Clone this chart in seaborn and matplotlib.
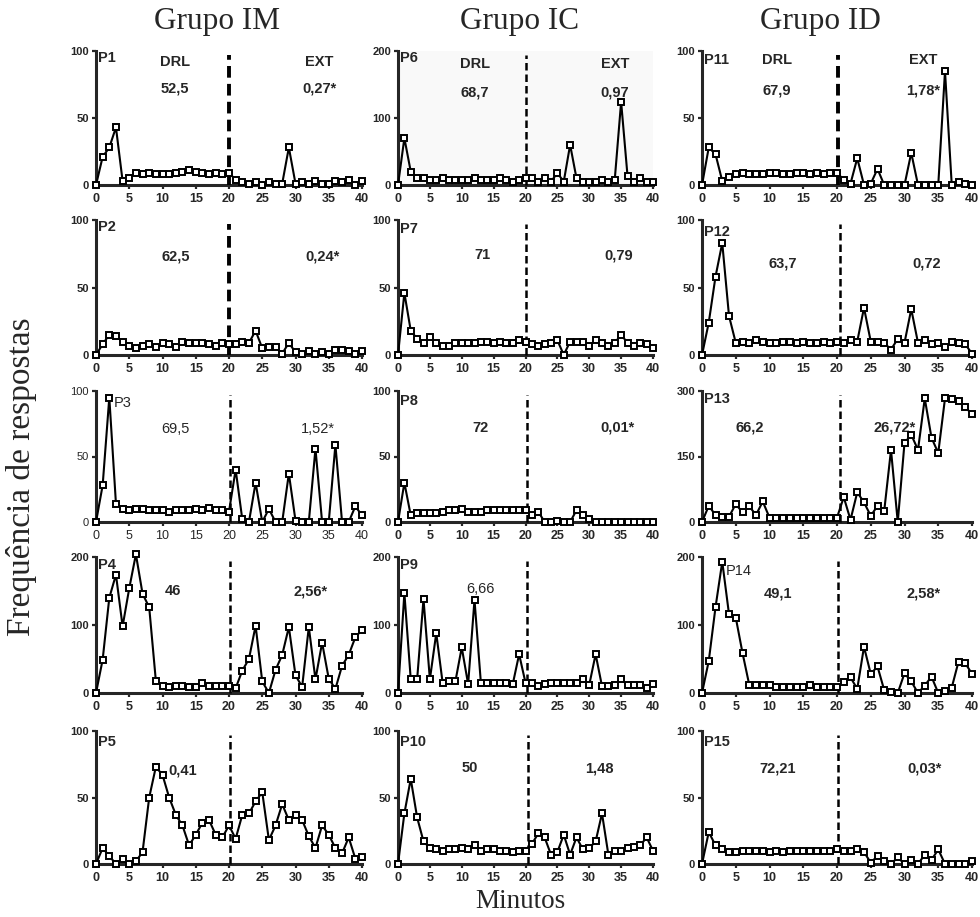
import matplotlib
matplotlib.use("Agg")
import matplotlib.pyplot as plt
import seaborn as sns

# ---------------- data ----------------
minutes = list(range(41))

p1 = [0, 21, 28, 43, 3, 5, 9, 8, 9, 8, 8, 8, 9, 10, 11, 10, 9, 8, 9, 8, 9,
      4, 2, 1, 2, 0, 2, 1, 1, 28, 1, 2, 1, 3, 1, 1, 3, 2, 4, 0, 3]
p2 = [0, 8, 15, 14, 10, 7, 5, 7, 8, 6, 9, 8, 6, 10, 9, 9, 9, 8, 7, 9, 8,
      8, 10, 9, 18, 5, 6, 6, 1, 9, 2, 1, 3, 1, 2, 1, 4, 4, 3, 1, 3]
p3 = [0, 28, 95, 14, 10, 9, 10, 10, 9, 9, 9, 8, 9, 9, 9, 10, 9, 11, 9, 9, 8,
      40, 2, 0, 30, 0, 10, 0, 0, 37, 1, 0, 0, 56, 0, 0, 59, 0, 0, 12, 5]
p4 = [0, 49, 140, 174, 98, 154, 204, 146, 126, 18, 11, 9, 11, 11, 9, 9, 14, 11, 11, 11, 11,
      7, 33, 50, 99, 17, 0, 34, 56, 97, 26, 9, 97, 20, 74, 21, 6, 40, 56, 82, 93]
p5 = [0, 12, 6, 0, 4, 0, 2, 9, 50, 73, 67, 50, 37, 29, 14, 22, 31, 33, 22, 20, 29,
      19, 37, 38, 47, 54, 18, 29, 45, 33, 37, 33, 21, 12, 29, 22, 12, 8, 20, 4, 5]
p6 = [0, 70, 20, 11, 11, 8, 8, 10, 8, 8, 8, 8, 10, 8, 8, 8, 10, 8, 5, 8, 10,
      10, 5, 10, 5, 18, 5, 60, 10, 5, 5, 5, 8, 5, 8, 124, 14, 5, 10, 5, 5]
p7 = [0, 46, 18, 12, 9, 13, 9, 7, 7, 9, 9, 9, 9, 10, 10, 9, 10, 9, 9, 11, 10,
      8, 7, 8, 9, 11, 0, 10, 10, 10, 7, 11, 9, 7, 9, 15, 9, 7, 9, 8, 5]
p8 = [0, 30, 5, 7, 7, 7, 7, 8, 9, 9, 10, 8, 8, 8, 9, 9, 9, 9, 9, 9, 9,
      5, 8, 0, 0, 1, 0, 0, 9, 5, 2, 0, 0, 0, 0, 0, 0, 0, 0, 0, 0]
p9 = [0, 147, 20, 20, 138, 20, 88, 15, 17, 17, 67, 13, 137, 15, 15, 15, 15, 15, 13, 57, 15,
      15, 10, 13, 15, 15, 15, 15, 15, 20, 12, 57, 10, 10, 12, 20, 12, 12, 12, 8, 13]
p10 = [0, 38, 64, 35, 17, 12, 11, 10, 11, 11, 12, 11, 14, 10, 11, 11, 10, 10, 9, 10, 10,
       15, 23, 20, 7, 9, 22, 7, 20, 11, 12, 17, 38, 7, 10, 10, 12, 13, 14, 20, 10]
p11 = [0, 28, 23, 3, 6, 8, 9, 8, 8, 8, 9, 9, 8, 8, 9, 9, 8, 9, 8, 9, 9,
       4, 1, 20, 0, 1, 12, 0, 0, 0, 0, 24, 0, 0, 0, 0, 85, 0, 2, 1, 0]
p12 = [0, 24, 58, 83, 29, 9, 10, 9, 11, 10, 9, 9, 10, 10, 9, 10, 9, 9, 10, 9, 10,
       9, 11, 10, 35, 10, 10, 9, 4, 12, 9, 34, 9, 11, 8, 9, 6, 10, 9, 8, 1]
p13 = [0, 37, 16, 12, 12, 41, 22, 36, 16, 47,
       10, 10, 10, 10, 10, 10, 10, 10, 10, 10, 10,
       57, 5, 68, 45, 14, 37, 26, 165, 0, 181, 200, 165, 283, 193, 158, 283, 282, 278, 263, 247]
p14 = [0, 47, 126, 193, 116, 111, 59, 12, 12, 12, 12, 9, 9, 9, 9, 9, 12, 9, 9, 9, 9,
       16, 23, 6, 68, 28, 39, 4, 1, 0, 29, 17, 0, 11, 24, 0, 3, 8, 46, 44, 28]
p15 = [0, 24, 14, 11, 9, 9, 10, 10, 10, 10, 9, 10, 9, 10, 10, 10, 10, 10, 10, 10, 11,
       10, 10, 11, 9, 1, 6, 2, 0, 5, 0, 3, 0, 7, 3, 11, 0, 0, 0, 0, 2]

series = [p1, p2, p3, p4, p5, p6, p7, p8, p9, p10, p11, p12, p13, p14, p15]
panel_names = ["P%d" % i for i in range(1, 16)]
y_max = [100, 100, 100, 200, 100,
         200, 100, 100, 200, 100,
         100, 100, 300, 200, 100]
drl_values = ["52,5", "62,5", "69,5", "46", "0,41",
              "68,7", "71", "72", "6,66", "50",
              "67,9", "63,7", "66,2", "49,1", "72,21"]
ext_values = ["0,27*", "0,24*", "1,52*", "2,56*", "",
              "0,97", "0,79", "0,01*", "", "1,48",
              "1,78*", "0,72", "26,72*", "2,58*", "0,03*"]
phase_change = [20.0, 20.0, 20.2, 20.1, 20.2,
                20.1, 20.1, 20.3, 20.3, 20.4,
                20.2, 20.4, 20.5, 20.2, 20.1]
phase_labels = ["DRL", "EXT"]
groups = ["Grupo IM", "Grupo IC", "Grupo ID"]
x_ticks = list(range(0, 41, 5))

# ---------------- layout ----------------
W, H = 980, 917
sns.set_style("ticks")
plt.rcParams["font.family"] = ["Liberation Sans", "DejaVu Sans"]

fig = plt.figure(figsize=(W / 100, H / 100), dpi=100)

col_left = [96, 398, 702]
col_right = [362, 653, 972]
row_top = [51, 220, 391, 557, 731]
row_bot = [185, 355, 522, 693, 864]

# per panel: name pos (x, yfrac), value x, value yfrac, ext x
label_pos = [
    ((0.3, 0.95), 11.9, 0.72, 33.6),
    ((0.3, 0.95), 12.0, 0.73, 34.0),
    ((2.7, 0.91), 11.9, 0.71, 33.4),
    ((0.3, 0.94), 11.5, 0.75, 32.3),
    ((0.3, 0.92), 13.0, 0.705, None),
    ((0.3, 0.95), 12.1, 0.69, 34.0),
    ((0.3, 0.93), 13.3, 0.74, 34.6),
    ((0.3, 0.92), 13.0, 0.72, 34.5),
    ((0.3, 0.94), 13.0, 0.765, None),
    ((0.3, 0.92), 11.3, 0.72, 31.6),
    ((0.3, 0.93), 11.1, 0.706, 32.8),
    ((0.3, 0.91), 11.9, 0.68, 33.3),
    ((0.3, 0.94), 7.0, 0.72, 28.6),
    ((3.5, 0.895), 11.3, 0.735, 32.8),
    ((0.3, 0.92), 11.2, 0.72, 33.0),
]
header_yf = [0.92, 0.905, 0.935]
fs_note = 10.5

for k in range(15):
    col, row = divmod(k, 5)
    l = col_left[col] / W
    b = 1 - row_bot[row] / H
    w = (col_right[col] - col_left[col]) / W
    h = (row_bot[row] - row_top[row]) / H
    ax = fig.add_axes([l, b, w, h])
    if k == 5:
        ax.set_facecolor("#f9f9f9")
    regular = (k == 2)
    fw = "normal" if regular else "bold"
    ym = y_max[k]

    sns.lineplot(x=minutes, y=series[k], ax=ax, color="black", linewidth=1.5,
                 marker="s", markersize=5.0, markerfacecolor="white",
                 markeredgecolor="black", markeredgewidth=1.4,
                 clip_on=False, zorder=5)
    dash_lw = 2.8 if k in (0, 1, 10) else 1.8
    ax.plot([phase_change[k], phase_change[k]], [0, ym * 0.97], color="black",
            lw=dash_lw, ls=(0, (3.0, 1.6)), zorder=3, clip_on=False)

    ax.set_xlim(0, 40)
    ax.set_ylim(0, ym)
    ax.set_xticks(x_ticks)
    ax.set_yticks([0, ym // 2, ym])
    ax.set_xlabel("")
    ax.set_ylabel("")
    sns.despine(ax=ax)
    for s in ("left", "bottom"):
        ax.spines[s].set_linewidth(2.2)
    ax.tick_params(axis="y", length=3, width=1.6, pad=2, labelsize=8)
    ax.tick_params(axis="x", length=3, width=1.6, pad=3, labelsize=9)
    for t in ax.get_xticklabels() + ax.get_yticklabels():
        t.set_fontweight(fw)

    (nx, ny), vx, vyf, ex = label_pos[k]
    ax.text(nx, ny * ym, panel_names[k], ha="left", va="center",
            fontsize=fs_note, fontweight=("normal" if k in (2, 13) else "bold"), zorder=6)
    if row == 0:
        ax.text(vx, header_yf[col] * ym, phase_labels[0], ha="center", va="center",
                fontsize=fs_note, fontweight="bold")
        ax.text(ex, header_yf[col] * ym, phase_labels[1], ha="center", va="center",
                fontsize=fs_note, fontweight="bold")
    ax.text(vx, vyf * ym, drl_values[k], ha="center", va="center", fontsize=fs_note,
            fontweight=("normal" if k in (2, 8) else "bold"))
    if ex is not None and ext_values[k]:
        ax.text(ex, vyf * ym, ext_values[k], ha="center", va="center", fontsize=fs_note,
                fontweight=fw)

serif = ["Liberation Serif", "DejaVu Serif"]
for col, g in enumerate(groups):
    cx = [217, 520, 820][col]
    fig.text(cx / W, 1 - 22 / H, g, ha="center", va="center", fontsize=22.5, family=serif)
fig.text(520 / W, 1 - 902 / H, "Minutos", ha="center", va="center", fontsize=19.5, family=serif)
fig.text(22 / W, 1 - 477 / H, "Frequência de respostas", ha="center", va="center",
         rotation=90, fontsize=24, family=serif)

fig.savefig("out.png", dpi=100)
